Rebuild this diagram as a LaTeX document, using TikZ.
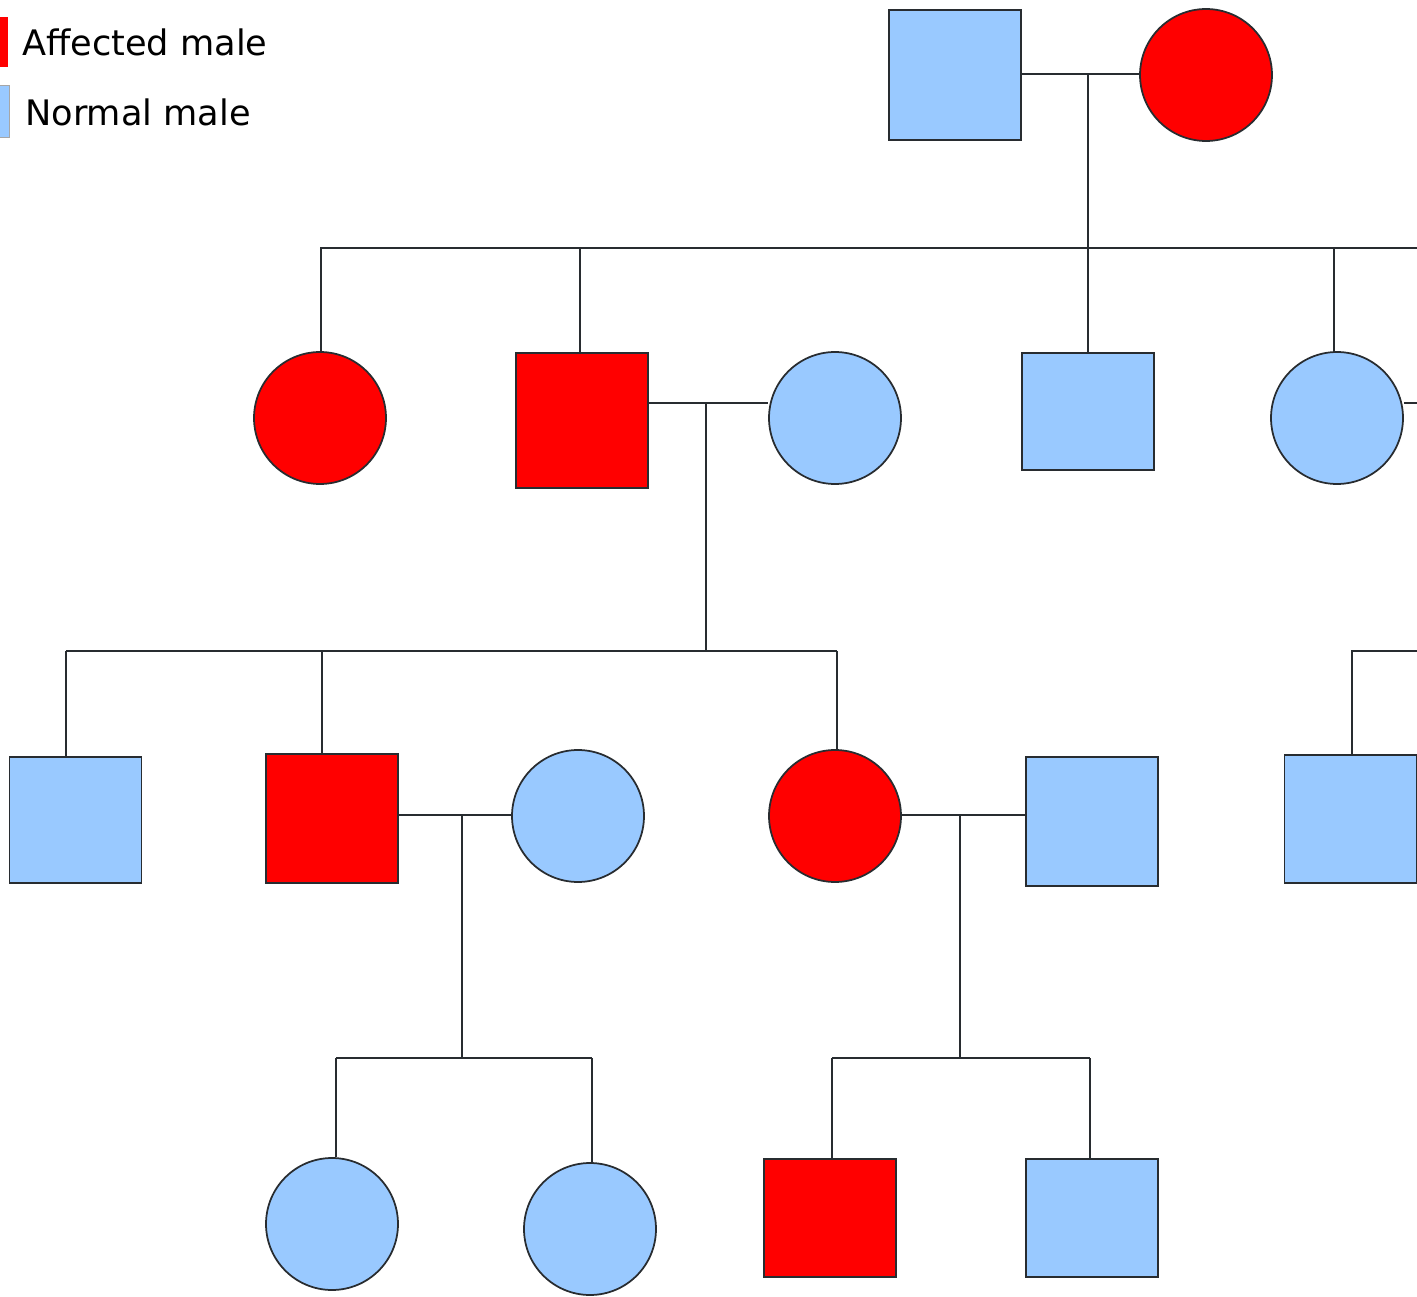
\documentclass[tikz,border=0pt]{standalone}
\usepackage{fontspec}
\setmainfont{DejaVu Sans}
\definecolor{pedblue}{RGB}{153,201,255}
\definecolor{pedline}{RGB}{40,44,48}

\begin{document}
\begin{tikzpicture}[x=0.02cm,y=-0.02cm,
  sq/.style={rectangle,draw=pedline,line width=1pt,inner sep=0pt,minimum width=2.64cm,minimum height=2.6cm},
  ci/.style={circle,draw=pedline,line width=1pt,inner sep=0pt,minimum size=2.64cm},
  aff/.style={fill=red},
  nrm/.style={fill=pedblue},
  link/.style={draw=pedline,line width=1pt},
  keytxt/.style={font=\fontsize{20}{24}\selectfont,anchor=base west,inner sep=0pt}]
  \clip (0,0) rectangle (1417,1297);

  % legend
  \fill[red] (-10,17) rectangle (8,67);
  \draw[black!35,fill=pedblue] (-10,85) rectangle (9,137);
  \node[keytxt] (keyaff) at (22,56) {Affected male};
  \node[keytxt] (keynrm) at (25,126) {Normal male};

  % generation I
  \node[sq,nrm] (gf) at (955,75) {};
  \node[ci,aff] (gm) at (1206,75) {};

  % generation II
  \node[ci,aff] (a1) at (320,418) {};
  \node[sq,aff,minimum height=2.7cm] (a2) at (582,420.5) {};
  \node[ci,nrm] (a2w) at (835,418) {};
  \node[sq,nrm,minimum height=2.34cm] (a3) at (1088,411.5) {};
  \node[ci,nrm] (a4) at (1337,418) {};

  % generation III
  \node[sq,nrm,minimum height=2.52cm] (b1) at (75.5,820) {};
  \node[sq,aff,minimum height=2.58cm] (b2) at (332,818.5) {};
  \node[ci,nrm] (b2w) at (578,816) {};
  \node[ci,aff] (b3) at (835,816) {};
  \node[sq,nrm,minimum height=2.58cm] (b3h) at (1092,821.5) {};
  \node[sq,nrm,minimum height=2.56cm] (b4) at (1350.5,819) {};

  % generation IV
  \node[ci,nrm] (c1) at (332,1224) {};
  \node[ci,nrm] (c2) at (590,1229) {};
  \node[sq,aff,minimum height=2.36cm] (c3) at (830,1218) {};
  \node[sq,nrm,minimum height=2.36cm] (c4) at (1092,1218) {};

  \coordinate (u1) at (1088,74);
  \coordinate (s1) at (1088,248);
  \coordinate (u2) at (706,403);
  \coordinate (s2) at (706,651);
  \coordinate (u3) at (462,815);
  \coordinate (s3) at (462,1058);
  \coordinate (u4) at (960,815);
  \coordinate (s4) at (960,1058);
  \coordinate (e1) at (1417,248);
  \coordinate (e2) at (1417,403);
  \coordinate (e3) at (1417,651);

  % couples and offspring
  \draw[link] (gf.east |- u1) -- (gm.west |- u1);
  \draw[link] (u1) -- (s1);
  \draw[link] (a1.north |- s1) -- (e1);
  \foreach \n/\dx in {a1/1,a2/-2,a3/0,a4/-3}
    \draw[link] ([xshift=\dx*0.02cm]\n.north |- s1) -- ([xshift=\dx*0.02cm]\n.north);

  \draw[link] (a2.east |- u2) -- (a2w.west |- u2);
  \draw[link] (a4.east |- e2) -- (e2);
  \draw[link] (u2) -- (s2);
  \draw[link] ([xshift=-0.19cm]b1.north |- s2) -- ([xshift=0.04cm]b3.north |- s2);
  \foreach \n/\dx in {b1/-9.5,b2/-10,b3/2}
    \draw[link] ([xshift=\dx*0.02cm]\n.north |- s2) -- ([xshift=\dx*0.02cm]\n.north);
  \draw[link] ([xshift=0.03cm]b4.north) -- ([xshift=0.03cm]b4.north |- e3) -- (e3);

  \draw[link] (b2.east |- u3) -- (b2w.west |- u3);
  \draw[link] (u3) -- (s3);
  \draw[link] ([xshift=0.08cm]c1.north |- s3) -- ([xshift=0.04cm]c2.north |- s3);
  \foreach \n/\dx in {c1/4,c2/2}
    \draw[link] ([xshift=\dx*0.02cm]\n.north |- s3) -- ([xshift=\dx*0.02cm]\n.north);

  \draw[link] (b3.east |- u4) -- (b3h.west |- u4);
  \draw[link] (u4) -- (s4);
  \draw[link] ([xshift=0.04cm]c3.north |- s4) -- ([xshift=-0.04cm]c4.north |- s4);
  \foreach \n/\dx in {c3/2,c4/-2}
    \draw[link] ([xshift=\dx*0.02cm]\n.north |- s4) -- ([xshift=\dx*0.02cm]\n.north);
\end{tikzpicture}
\end{document}
